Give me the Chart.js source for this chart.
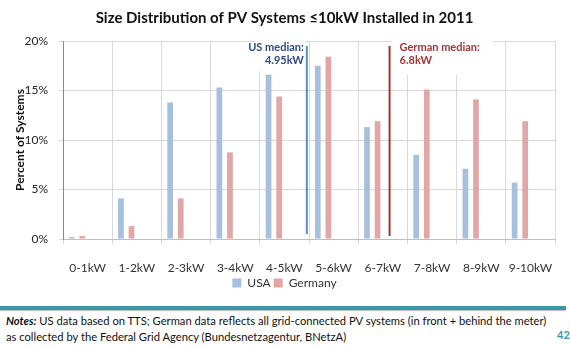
<!DOCTYPE html>
<html>
<head>
<meta charset="utf-8">
<script src="https://cdn.jsdelivr.net/npm/chart.js@4/dist/chart.umd.min.js"></script>
<style>
  body { margin: 0; background: #fff; font-family: Lato, sans-serif; }
  #wrap { position: relative; width: 570px; height: 346px; overflow: hidden; }
  #box { position: absolute; left: 0; top: 0; width: 570px; height: 300px; }
  #rule { position: absolute; left: 0; top: 306px; width: 566px; height: 4px; background: #3a97a8; box-shadow: 0 1px 1px #bbb; }
  #notes { position: absolute; left: 6px; top: 313px; font-size: 11.2px; line-height: 16px; color: #111; white-space: nowrap; }
  #page { position: absolute; left: 557px; top: 328px; font-size: 11px; font-weight: bold; color: #3a97a8; }
</style>
</head>
<body>
<div id="wrap">
  <div id="box"><canvas id="myChart"></canvas></div>
  <div id="rule"></div>
  <div id="notes"><b><i>Notes:</i></b> US data based on TTS; German data reflects all grid-connected PV systems (in front + behind the meter)<br>as collected by the Federal Grid Agency (Bundesnetzagentur, BNetzA)</div>
  <div id="page">42</div>
</div>
<script>
var categories = ["0-1kW", "1-2kW", "2-3kW", "3-4kW", "4-5kW", "5-6kW", "6-7kW", "7-8kW", "8-9kW", "9-10kW"];
var usaShare = [0.2, 4.1, 13.8, 15.3, 16.6, 17.5, 11.3, 8.5, 7.1, 5.7];
var germanyShare = [0.3, 1.3, 4.1, 8.75, 14.4, 18.4, 11.9, 15.1, 14.1, 11.9];
var yTicks = [0, 5, 10, 15, 20];
var usMedian = 4.95;
var germanMedian = 6.8;

// white boxes + labels for the two medians
var medianLabels = {
  id: 'medianLabels',
  beforeDatasetsDraw: function(chart) {
    var c = chart.ctx;
    var kw = chart.scales.kw;
    var y = chart.scales.y;
    var xu = kw.getPixelForValue(usMedian);
    var xg = kw.getPixelForValue(germanMedian);
    var top = y.getPixelForValue(20);
    c.save();
    c.fillStyle = '#fff';
    c.fillRect(xu - 52, top - 6, 50, 36);
    c.fillRect(xg + 2, top - 6, 101, 40);
    c.font = 'bold 11px Lato';
    c.textBaseline = 'middle';
    c.fillStyle = '#2c4a86';
    c.textAlign = 'right';
    c.fillText('US median:', xu - 3, top + 6);
    c.fillText('4.95kW', xu - 3, top + 19);
    c.fillStyle = '#a83434';
    c.textAlign = 'left';
    c.fillText('German median:', xg + 10, top + 6);
    c.fillText('6.8kW', xg + 10, top + 19);
    c.restore();
  }
};

var ctx = document.getElementById('myChart').getContext('2d');
var myChart = new Chart(ctx, {
  type: 'bar',
  data: {
    labels: categories,
    datasets: [
      {
        label: "USA",
        data: usaShare,
        backgroundColor: "#a7c0de",
        categoryPercentage: 0.86,
        barPercentage: 0.54
      },
      {
        label: "Germany",
        data: germanyShare,
        backgroundColor: "#e2a6a6",
        categoryPercentage: 0.86,
        barPercentage: 0.54
      },
      {
        type: 'line',
        label: "usMedian",
        xAxisID: 'kw',
        data: [{x: usMedian, y: 0.5}, {x: usMedian, y: 19.5}],
        borderColor: "#5b8cc8",
        borderWidth: 2,
        pointRadius: 0
      },
      {
        type: 'line',
        label: "germanMedian",
        xAxisID: 'kw',
        data: [{x: germanMedian, y: 0.3}, {x: germanMedian, y: 19.5}],
        borderColor: "#a83232",
        borderWidth: 2,
        pointRadius: 0
      }
    ]
  },
  options: {
    responsive: true,
    maintainAspectRatio: false,
    animation: false,
    layout: { padding: { left: 13, right: 14, top: 0, bottom: 1 } },
    scales: {
      x: {
        afterFit: function(axis) { axis.height = 35; },
        grid: { color: '#d9d9d9', offset: true, tickLength: 5 },
        border: { color: '#bfbfbf' },
        ticks: { color: '#333', font: { family: 'Lato', size: 12 }, padding: 17, maxRotation: 0 }
      },
      kw: {
        type: 'linear',
        display: false,
        min: 0,
        max: 10
      },
      y: {
        min: 0,
        max: 20,
        afterBuildTicks: function(axis) {
          axis.ticks = yTicks.map(function(v) { return {value: v}; });
        },
        afterFit: function(axis) { axis.width = 50; },
        grid: { color: '#d9d9d9', tickLength: 4 },
        border: { color: '#888' },
        ticks: {
          color: '#222',
          font: { family: 'Lato', size: 12 },
          padding: 11,
          callback: function(v) { return v + '%'; }
        },
        title: {
          display: true,
          text: 'Percent of Systems',
          color: '#111',
          font: { family: 'Lato', size: 12, weight: 'bold' },
          padding: { top: 0, bottom: 4 }
        }
      }
    },
    plugins: {
      legend: {
        position: 'bottom',
        labels: {
          boxWidth: 9,
          boxHeight: 9,
          padding: 3,
          color: '#333',
          font: { family: 'Lato', size: 12 },
          filter: function(item) { return item.datasetIndex < 2; }
        }
      },
      title: {
        display: true,
        text: 'Size Distribution of PV Systems ≤10kW Installed in 2011',
        color: '#111',
        font: { family: 'Lato', size: 15, weight: 'bold' },
        padding: { top: 9, bottom: 14 }
      },
      tooltip: { enabled: false }
    }
  },
  plugins: [medianLabels]
});
</script>
</body>
</html>
